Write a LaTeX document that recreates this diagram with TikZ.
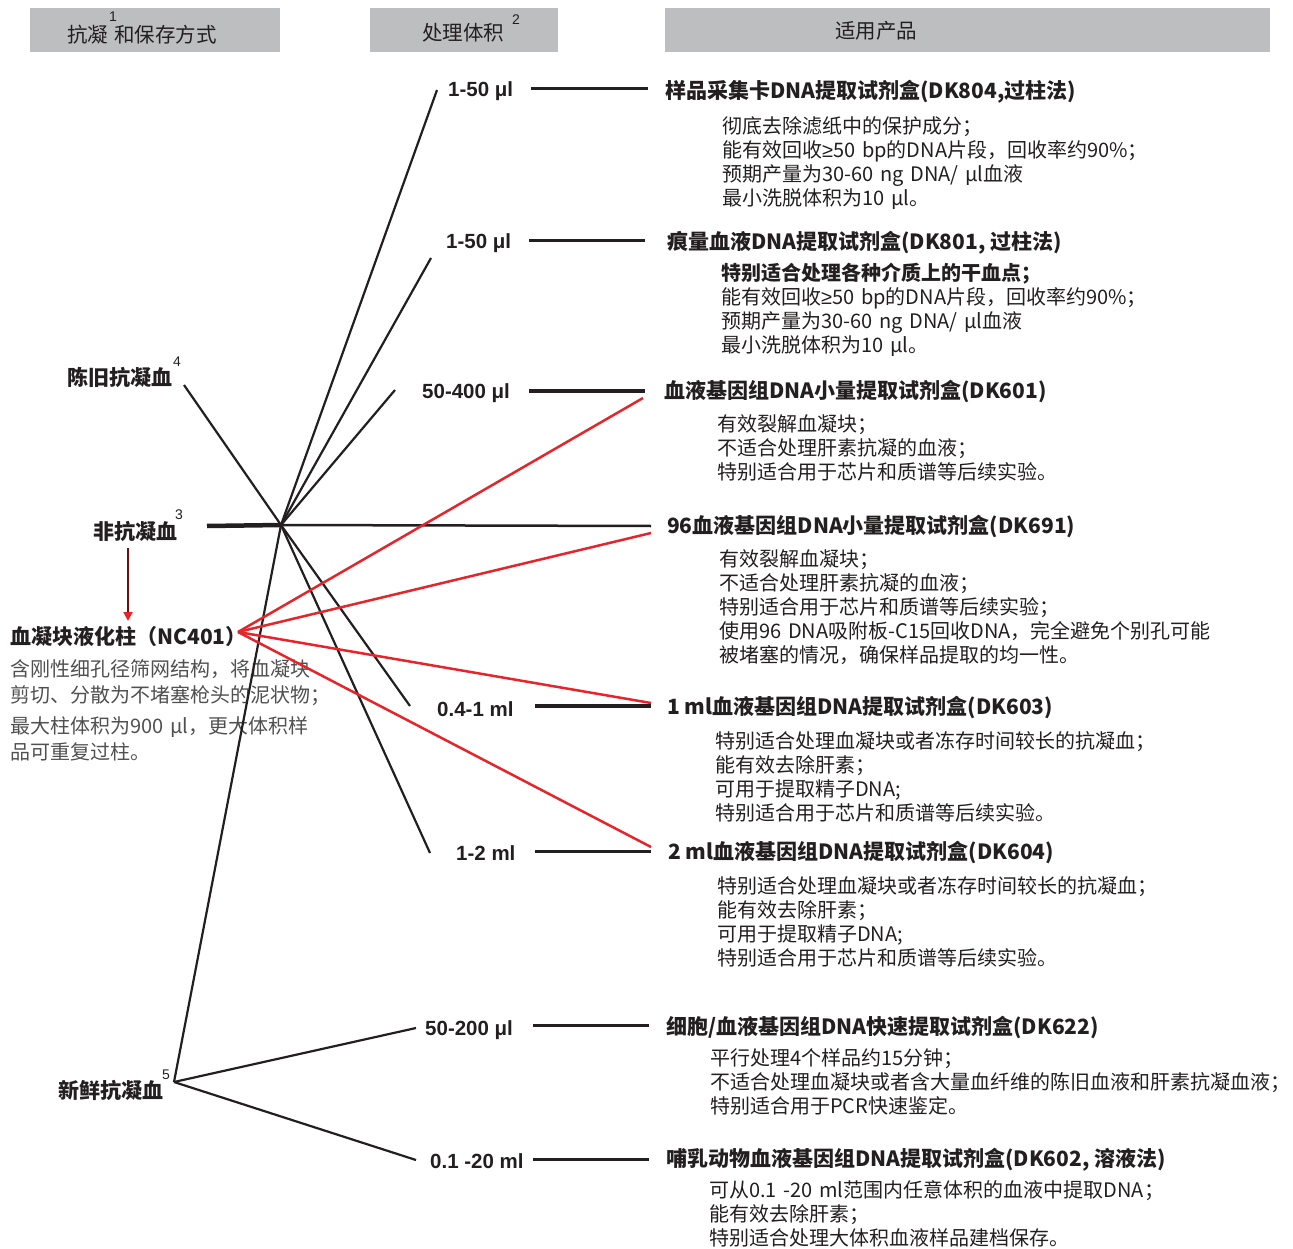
\documentclass[tikz,border=0pt]{standalone}
\usepackage{fontspec}
\setmainfont{Liberation Sans}
\newfontfamily\cjk{Noto Sans CJK SC}
\usetikzlibrary{arrows.meta}
\definecolor{ink}{HTML}{231F20}
\definecolor{hdr}{HTML}{BDBEC0}
\definecolor{redl}{HTML}{E8242B}
\definecolor{darkred}{HTML}{6E1010}
\definecolor{graytxt}{HTML}{505050}
\newcommand{\mygeq}{{\rmfamily ≥}}
\tikzset{
 hdrbox/.style={fill=hdr, draw=none, minimum height=44pt, inner sep=0pt},
 hdrtxt/.style={font=\cjk\fontsize{20.5}{22}\selectfont, text=ink, anchor=base west, inner sep=0pt},
 suptxt/.style={font=\fontsize{14}{14}\selectfont, text=ink, anchor=west, inner sep=0pt},
 vol/.style={font=\bfseries\fontsize{20.5}{22}\selectfont, text=ink, anchor=base west, inner sep=0pt},
 ttl/.style={font=\cjk\bfseries\fontsize{21}{24}\selectfont, text=ink, anchor=base west, inner sep=0pt},
 dsc/.style={font=\cjk\fontsize{20}{24}\selectfont, text=ink, anchor=base west, inner sep=0pt, text width=600pt, align=left},
 src/.style={font=\cjk\bfseries\fontsize{21}{24}\selectfont, text=ink, anchor=base west, inner sep=0pt},
 gdsc/.style={font=\cjk\fontsize{20}{26}\selectfont, text=graytxt, anchor=base west, inner sep=0pt, text width=330pt, align=left},
 ln/.style={draw=ink, line width=2.2pt},
 pl/.style={draw=ink, line width=3pt},
 plk/.style={draw=ink, line width=4.2pt},
 rl/.style={draw=redl, line width=2.5pt},
}
\begin{document}
\begin{tikzpicture}[x=1pt,y=-1pt]
\useasboundingbox (0,0) rectangle (1293,1249);
% header boxes
\node[hdrbox, minimum width=250pt] (hb1) at (155,30) {};
\node[hdrbox, minimum width=188pt] (hb2) at (464,30) {};
\node[hdrbox, minimum width=605pt] (hb3) at (967.5,30) {};
\node[hdrtxt] (ht1) at (67,43) {抗凝\hspace{6pt}和保存方式};
\node[suptxt] (hs1) at (109,17) {1};
\node[hdrtxt] (ht2) at (422,41) {处理体积};
\node[suptxt] (hs2) at (512,20) {2};
\node[hdrtxt] (ht3) at (835,39) {适用产品};

% left sources
\node[src] (L1) at (67,385) {陈旧抗凝血};
\node[suptxt] (s4) at (173,362) {4};
\node[src] (L2) at (93,539) {非抗凝血};
\node[suptxt] (s3) at (175,515) {3};
\node[src] (L3) at (10,644) {血凝块液化柱（NC401）};
\node[gdsc] (G) at (10,676.5) {含刚性细孔径筛网结构，将血凝块\\ 剪切、分散为不堵塞枪头的泥状物；\\[5pt] 最大柱体积为900 μl，更大体积样\\ 品可重复过柱。};
\node[src] (L4) at (58,1098) {新鲜抗凝血};
\node[suptxt] (s5) at (162,1075) {5};

% volumes
\node[vol] (v1) at (448,96.3) {1-50 μl};
\node[vol] (v2) at (446,248.3) {1-50 μl};
\node[vol] (v3) at (422,398.3) {50-400 μl};
\node[vol] (v4) at (437,716) {0.4-1 ml};
\node[vol] (v5) at (456,860) {1-2 ml};
\node[vol] (v6) at (425,1035) {50-200 μl};
\node[vol] (v7) at (430,1168) {0.1 -20 ml};

% product titles
\node[ttl] (t1) at (665,99) {样品采集卡DNA提取试剂盒(DK804,过柱法)};
\node[ttl] (t2) at (667,250) {痕量血液DNA提取试剂盒(DK801, 过柱法)};
\node[ttl] (t3) at (664,398) {血液基因组DNA小量提取试剂盒(DK601)};
\node[ttl] (t4) at (667,533) {96血液基因组DNA小量提取试剂盒(DK691)};
\node[ttl] (t5) at (667,714) {1 ml血液基因组DNA提取试剂盒(DK603)};
\node[ttl] (t6) at (668,859) {2 ml血液基因组DNA提取试剂盒(DK604)};
\node[ttl] (t7) at (666,1034) {细胞/血液基因组DNA快速提取试剂盒(DK622)};
\node[ttl] (t8) at (666,1166) {哺乳动物血液基因组DNA提取试剂盒(DK602, 溶液法)};

% descriptions
\node[dsc] (d1) at (722,133.5) {彻底去除滤纸中的保护成分；\\ 能有效回收\mygeq50 bp的DNA片段，回收率约90\%；\\ 预期产量为30-60 ng DNA/ μl血液\\ 最小洗脱体积为10 μl。};
\node[dsc] (d2) at (721,280.5) {{\bfseries 特别适合处理各种介质上的干血点；}\\ 能有效回收\mygeq50 bp的DNA片段，回收率约90\%；\\ 预期产量为30-60 ng DNA/ μl血液\\ 最小洗脱体积为10 μl。};
\node[dsc] (d3) at (717,431.5) {有效裂解血凝块；\\ 不适合处理肝素抗凝的血液；\\ 特别适合用于芯片和质谱等后续实验。};
\node[dsc] (d4) at (719,566.5) {有效裂解血凝块；\\ 不适合处理肝素抗凝的血液；\\ 特别适合用于芯片和质谱等后续实验；\\ 使用96 DNA吸附板-C15回收DNA，完全避免个别孔可能\\ 被堵塞的情况，确保样品提取的均一性。};
\node[dsc] (d5) at (715,748.5) {特别适合处理血凝块或者冻存时间较长的抗凝血；\\ 能有效去除肝素；\\ 可用于提取精子DNA;\\ 特别适合用于芯片和质谱等后续实验。};
\node[dsc] (d6) at (717,893.5) {特别适合处理血凝块或者冻存时间较长的抗凝血；\\ 能有效去除肝素；\\ 可用于提取精子DNA;\\ 特别适合用于芯片和质谱等后续实验。};
\node[dsc] (d7) at (710,1065.5) {平行处理4个样品约15分钟；\\ 不适合处理血凝块或者含大量血纤维的陈旧血液和肝素抗凝血液；\\ 特别适合用于PCR快速鉴定。};
\node[dsc] (d8) at (709,1197.5) {可从0.1 -20 ml范围内任意体积的血液中提取DNA；\\ 能有效去除肝素；\\ 特别适合处理大体积血液样品建档保存。};

% connector points
\coordinate (C) at (281,525);
\coordinate (O) at (184,385);
\coordinate (N) at (207,526);
\coordinate (F) at (174,1082);
\coordinate (R) at (238,632);
\coordinate (a1) at (437,90);
\coordinate (a2) at (431,258);
\coordinate (a3) at (395,390);
\coordinate (a4) at (410,706);
\coordinate (a5) at (430,853);
\coordinate (a6) at (416,1028);
\coordinate (a7) at (416,1160);
\coordinate (e4) at (651,526);
\coordinate (p1s) at (531,89);   \coordinate (p1e) at (648,89);
\coordinate (p2s) at (529,241);  \coordinate (p2e) at (645,241);
\coordinate (p3s) at (529,391);  \coordinate (p3e) at (645,391);
\coordinate (p4s) at (535,706);  \coordinate (p4e) at (651,706);
\coordinate (p5s) at (535,851);  \coordinate (p5e) at (651,851);
\coordinate (p6s) at (533,1025); \coordinate (p6e) at (649,1025);
\coordinate (p7s) at (533,1159); \coordinate (p7e) at (649,1159);
\coordinate (r3) at (643,398);
\coordinate (r4) at (651,533);
\coordinate (r5) at (651,703);
\coordinate (r6) at (651,847);
\coordinate (ar1) at (128,548);
\coordinate (ar2) at (128,621);

% black lines
\draw[ln] (O) -- (C) -- (a4);
\draw[ln] (C) -- (a1);
\draw[ln] (C) -- (a2);
\draw[ln] (C) -- (a3);
\draw[ln] (C) -- (a5);
\draw[ln] (F) -- (C);
\draw[ln] (F) -- (a6);
\draw[ln] (F) -- (a7);
\draw[draw=ink, line width=4.5pt] (N) -- (C);
\draw[draw=ink, line width=2.5pt] (C) -- (e4);
\draw[pl] (p1s) -- (p1e);
\draw[pl] (p2s) -- (p2e);
\draw[plk] (p3s) -- (p3e);
\draw[plk] (p4s) -- (p4e);
\draw[pl] (p5s) -- (p5e);
\draw[pl] (p6s) -- (p6e);
\draw[pl] (p7s) -- (p7e);
% red lines
\draw[rl] (R) -- (r3);
\draw[rl] (R) -- (r4);
\draw[rl] (R) -- (r5);
\draw[rl] (R) -- (r6);
% arrow
\draw[draw=darkred, line width=2pt, -{Triangle[width=9pt,length=9pt,color=redl]}] (ar1) -- (ar2);
\end{tikzpicture}
\end{document}
